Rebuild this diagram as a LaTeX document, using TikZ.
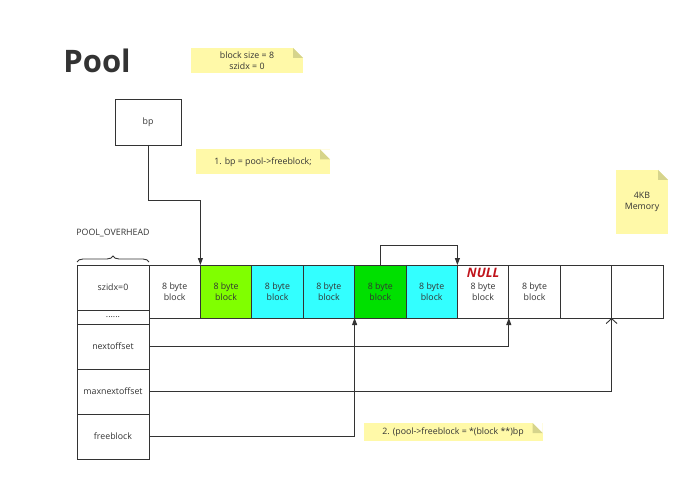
\documentclass[tikz,border=0pt]{standalone}
\usepackage{fontspec}
\setmainfont{Open Sans}
\usepackage{tikz}
\usetikzlibrary{positioning,arrows.meta,decorations.pathreplacing}

\definecolor{inkgray}{HTML}{333333}
\definecolor{notefill}{HTML}{FFF9A8}
\definecolor{foldcol}{HTML}{D6D48C}
\definecolor{limeblk}{HTML}{80FF00}
\definecolor{cyanblk}{HTML}{33FFFF}
\definecolor{greenblk}{HTML}{00E000}
\definecolor{nullred}{HTML}{C0141C}

\tikzset{
  cell/.style={draw=inkgray, line width=0.9pt, outer sep=0pt, inner sep=0pt, align=center,
    text=inkgray, minimum width=51.4pt, minimum height=53pt, font=\fontsize{8.8}{11.5}\selectfont},
  field/.style={cell, minimum width=72pt, minimum height=45pt},
  note/.style={fill=notefill, inner sep=0pt, align=center, text=inkgray, font=\fontsize{8.8}{11.5}\selectfont,
    path picture={
      \fill[white] ([xshift=-10pt]path picture bounding box.north east) -- (path picture bounding box.north east)
        -- ([yshift=-10pt]path picture bounding box.north east) -- cycle;
      \fill[foldcol] ([xshift=-10pt]path picture bounding box.north east) -- ([yshift=-10pt]path picture bounding box.north east)
        -- ([xshift=-10pt,yshift=-10pt]path picture bounding box.north east) -- cycle;}},
  link/.style={draw=inkgray, line width=0.9pt, -{Triangle[length=7pt,width=5pt]}},
}

\begin{document}
\begin{tikzpicture}[x=1pt, y=-1pt]
  \useasboundingbox[fill=white] (0,0) rectangle (690,478);

  \node[text=inkgray, font=\fontsize{31}{31}\selectfont\bfseries] (title) at (97,61) {Pool};
  \node[note, minimum width=112pt, minimum height=25pt] (cfg) at (247,60.5) {block size = 8\\szidx = 0};
  \node[cell, minimum width=66pt, minimum height=46pt] (bp) at (148,122) {bp};
  \node[note, minimum width=134pt, minimum height=25pt] (step1) at (263,162) {1. bp = pool->freeblock;};
  \node[note, minimum width=52pt, minimum height=64pt] (mem) at (642,202) {4KB\\Memory};
  \node[note, minimum width=179pt, minimum height=18pt] (step2) at (453,432) {2. (pool->freeblock = *(block **)bp};

  % pool header
  \node[field] (szidx) at (113,287.5) {szidx=0};
  \node[field, minimum height=14pt, below=0pt of szidx] (dots) {......};
  \node[field, below=0pt of dots] (nextoff) {nextoffset};
  \node[field, below=0pt of nextoff] (maxnext) {maxnextoffset};
  \node[field, below=0pt of maxnext] (free) {freeblock};
  \node[text=inkgray, font=\fontsize{8.8}{10}\selectfont, above=25pt of szidx] (overhead) {POOL\_OVERHEAD};
  \draw[inkgray, line width=0.9pt, decorate, decoration={brace, amplitude=6pt}]
    ([yshift=3pt]szidx.north west) -- ([yshift=3pt]szidx.north east);

  % blocks
  \node[cell, right=0pt of szidx.north east, anchor=north west] (b1) {8 byte\\block};
  \node[cell, fill=limeblk, right=0pt of b1] (b2) {8 byte\\block};
  \node[cell, fill=cyanblk, right=0pt of b2] (b3) {8 byte\\block};
  \node[cell, fill=cyanblk, right=0pt of b3] (b4) {8 byte\\block};
  \node[cell, fill=greenblk, right=0pt of b4] (b5) {8 byte\\block};
  \node[cell, fill=cyanblk, right=0pt of b5] (b6) {8 byte\\block};
  \node[cell, right=0pt of b6] (b7) {8 byte\\block};
  \node[cell, right=0pt of b7] (b8) {8 byte\\block};
  \node[cell, right=0pt of b8] (b9) {};
  \node[cell, right=0pt of b9] (b10) {};
  \node[text=nullred, font=\fontsize{13}{13}\selectfont\bfseries\itshape] (null) at ([yshift=-8pt]b7.north) {NULL};

  % pointers
  \draw[link] (bp.south) |- ([yshift=65pt]b2.north west) -- (b2.north west);
  \draw[link] (b5.north) |- ([yshift=20pt]b7.north west) -- (b7.north west);
  \draw[link] (nextoff.east) -| (b8.south west);
  \draw[link, -{Straight Barb[length=5pt,width=11pt]}] (maxnext.east) -| (b10.south west);
  \draw[link] (free.east) -| (b5.south west);
\end{tikzpicture}
\end{document}
